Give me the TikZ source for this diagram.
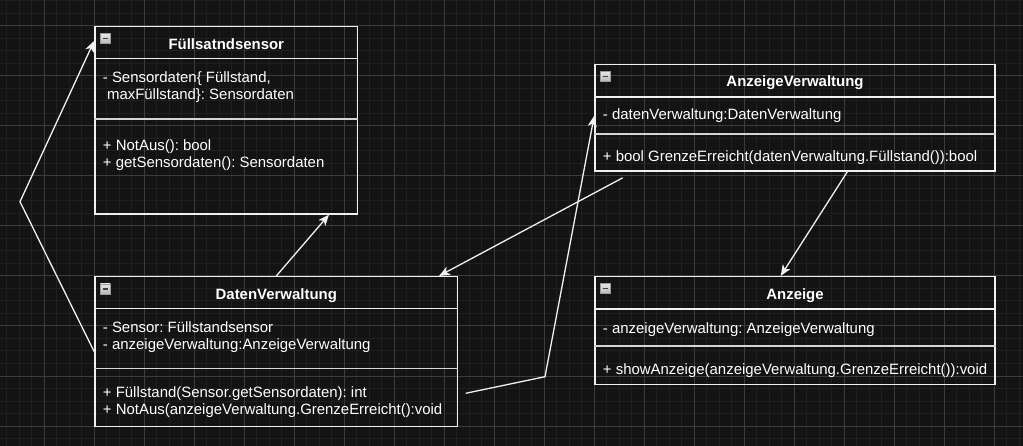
\documentclass[tikz,border=0pt]{standalone}
\usepackage{fontspec}
\setmainfont{Liberation Sans}
\usetikzlibrary{arrows.meta,calc,positioning}
\definecolor{canvas}{RGB}{19,19,19}
\definecolor{gridminor}{RGB}{31,31,31}
\definecolor{gridmajor}{RGB}{60,60,60}
\definecolor{umlline}{RGB}{240,240,240}
\definecolor{umlsep}{RGB}{212,212,212}
\frenchspacing
\tikzset{
  cls/.style={rectangle,draw=umlline,line width=1.5pt,fill=none,inner sep=0pt},
  clstitle/.style={anchor=base,inner sep=0pt,text=white,
    font=\fontsize{14.95}{17.3}\selectfont\bfseries},
  member/.style={anchor=base west,inner sep=0pt,text=white,align=left,
    font=\fontsize{14.95}{17.3}\selectfont},
  head/.style={draw=umlline,line width=1.5pt},
  sep/.style={draw=umlsep,line width=1.8pt},
  % collapse icon of a class box
  icon/.style={rectangle,minimum size=10pt,inner sep=0pt,draw=gray!80,
    top color=gray!20,bottom color=gray!55,
    path picture={\draw[line width=1.6pt,black!75]
      ([xshift=2.2pt]path picture bounding box.west) --
      ([xshift=-2.2pt]path picture bounding box.east);}},
  arr/.style={-{Stealth[length=11pt,width=9pt,inset=3pt]},draw=umlline,line width=1.3pt},
  minorline/.style={draw=gridminor,line width=1pt},
  majorline/.style={draw=gridmajor,line width=1pt}
}
\begin{document}
\begin{tikzpicture}[x=1pt,y=-1pt]
  \fill[canvas] (0,0) rectangle (1023,446);
  \useasboundingbox (0,0) rectangle (1023,446);
  % background grid
  \foreach \i in {0,...,81} {\draw[minorline] (6.5+12.5*\i,0) -- (6.5+12.5*\i,446);}
  \foreach \j in {0,...,35} {\draw[minorline] (0,1+12.5*\j) -- (1023,1+12.5*\j);}
  \foreach \i in {0,...,19} {\draw[majorline] (44+50*\i,0) -- (44+50*\i,446);}
  \foreach \j in {0,...,8} {\draw[majorline] (0,26+50*\j) -- (1023,26+50*\j);}

  % class boxes
  \node[cls,minimum width=262.7pt,minimum height=187.3pt] (fs) at (226.3,120.3) {};
  \node[cls,minimum width=400pt,minimum height=106.7pt] (av) at (795,117.7) {};
  \node[cls,minimum width=362.7pt,minimum height=150pt] (dv) at (276.3,351.7) {};
  \node[cls,minimum width=400pt,minimum height=107.7pt] (an) at (795,330.5) {};

  \draw[head] ([yshift=-32.6pt]fs.north west) -- ([yshift=-32.6pt]fs.north east);
  \draw[sep] ([yshift=-93.3pt]fs.north west) -- ([yshift=-93.3pt]fs.north east);
  \draw[head] ([yshift=-33.4pt]av.north west) -- ([yshift=-33.4pt]av.north east);
  \draw[sep] ([yshift=-70.7pt]av.north west) -- ([yshift=-70.7pt]av.north east);
  \draw[head] ([yshift=-32.6pt]dv.north west) -- ([yshift=-32.6pt]dv.north east);
  \draw[sep] ([yshift=-92.6pt]dv.north west) -- ([yshift=-92.6pt]dv.north east);
  \draw[head] ([yshift=-33.3pt]an.north west) -- ([yshift=-33.3pt]an.north east);
  \draw[sep] ([yshift=-70pt]an.north west) -- ([yshift=-70pt]an.north east);

  \node[icon,below right=7.6pt and 6pt of fs.north west] (fsicon) {};
  \node[icon,below right=7.6pt and 6pt of av.north west] (avicon) {};
  \node[icon,below right=7.6pt and 6pt of dv.north west] (dvicon) {};
  \node[icon,below right=7.6pt and 6pt of an.north west] (anicon) {};

  % texts (multi-line nodes sit on the baseline of their last line)
  \node[clstitle] (fstitle) at (226.3,50) {Füllsatndsensor};
  \node[member] (fsattr) at (102.7,100) {- Sensordaten\{ Füllstand,\\\ maxFüllstand\}: Sensordaten};
  \node[member] (fsops) at (102.7,167.7) {+ NotAus(): bool\\+ getSensordaten(): Sensordaten};

  \node[clstitle] (avtitle) at (795,86.7) {AnzeigeVerwaltung};
  \node[member] (avattr) at (602.7,120) {- datenVerwaltung:DatenVerwaltung};
  \node[member] (avops) at (602.7,161.7) {+ bool GrenzeErreicht(datenVerwaltung.Füllstand()):bool};

  \node[clstitle] (dvtitle) at (276.3,300) {DatenVerwaltung};
  \node[member] (dvattr) at (102.7,350) {- Sensor: Füllstandsensor\\- anzeigeVerwaltung:AnzeigeVerwaltung};
  \node[member] (dvops) at (102.7,414.7) {+ Füllstand(Sensor.getSensordaten): int\\+ NotAus(anzeigeVerwaltung.GrenzeErreicht():void};

  \node[clstitle] (antitle) at (795,299.3) {Anzeige};
  \node[member] (anattr) at (602.7,333.3) {- anzeigeVerwaltung: AnzeigeVerwaltung};
  \node[member] (anops) at (602.7,374.3) {+ showAnzeige(anzeigeVerwaltung.GrenzeErreicht()):void};

  % connectors
  \coordinate (bendL) at (20,201.7);
  \coordinate (bendR) at (545,376.7);
  \draw[arr] (dv.west) -- (bendL) -- ([yshift=-15pt]fs.north west);
  \draw[arr] (dv.north) -- ([xshift=-29.4pt]fs.south east);
  \draw[arr] ([xshift=-373pt,yshift=-6pt]av.south east) -- ([xshift=-19.4pt]dv.north east);
  \draw[arr] ([xshift=7.3pt,yshift=-41.6pt]dv.east) -- (bendR) -- ([yshift=2pt]av.west);
  \draw[arr] ([xshift=52.3pt]av.south) -- ([xshift=-14.3pt]an.north);
\end{tikzpicture}
\end{document}
